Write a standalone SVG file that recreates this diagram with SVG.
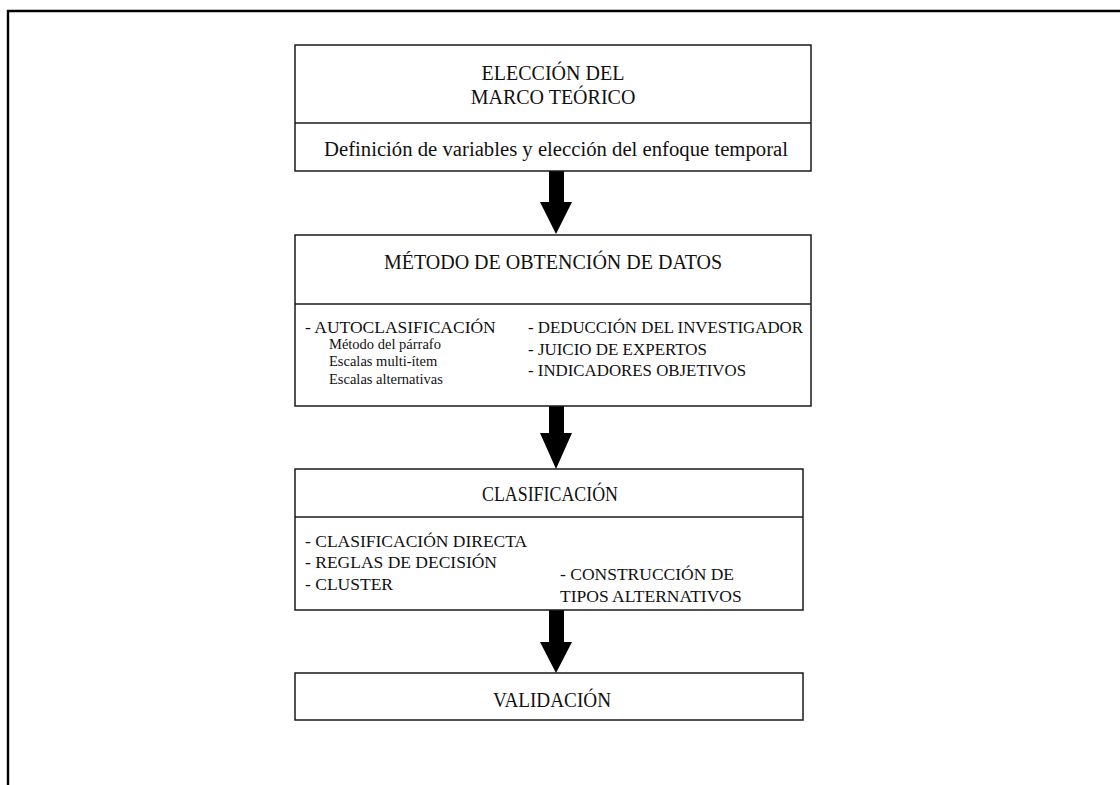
<svg xmlns="http://www.w3.org/2000/svg" width="1120" height="785" viewBox="0 0 1120 785">
  <style>
    .frame { fill: none; stroke: #000; stroke-width: 2.4; }
    .box { fill: #fff; stroke: #1a1a1a; stroke-width: 1.5; }
    .rule { stroke: #1a1a1a; stroke-width: 1.5; }
    .arrow { fill: #000; stroke: none; }
    text { font-family: "Liberation Serif", "Times New Roman", serif; fill: #111; }
    .head { font-size: 20px; }
    .body { font-size: 17.5px; }
    .small { font-size: 14.5px; }
    .mid { text-anchor: middle; }
  </style>

  <rect width="1120" height="785" fill="#fff"/>

  <!-- outer frame: top and left edges only -->
  <path class="frame" d="M8 785 V11 H1120"/>

  <!-- connectors: thick block arrows between stages -->
  <g id="connectors">
    <path class="arrow" d="M549 171 H564 V202 H572 L556 234 L540 202 H549 Z"/>
    <path class="arrow" d="M549 406 H564 V433 H572 L556 469 L540 433 H549 Z"/>
    <path class="arrow" d="M549 610 H564 V642 H572 L556 673 L540 642 H549 Z"/>
  </g>

  <!-- stage 1 -->
  <g id="marco-teorico">
    <rect class="box" x="295" y="45" width="516" height="126"/>
    <line class="rule" x1="295" y1="123" x2="811" y2="123"/>
    <text class="head mid" x="553" y="80">ELECCIÓN DEL</text>
    <text class="head mid" x="553" y="104">MARCO TEÓRICO</text>
    <text class="head mid" x="556" y="156" font-size="20.5" textLength="464" lengthAdjust="spacingAndGlyphs">Definición de variables y elección del enfoque temporal</text>
  </g>

  <!-- stage 2 -->
  <g id="obtencion-datos">
    <rect class="box" x="295" y="235" width="516" height="171"/>
    <line class="rule" x1="295" y1="304" x2="811" y2="304"/>
    <text class="head mid" x="553" y="269">MÉTODO DE OBTENCIÓN DE DATOS</text>
    <text class="body" x="305" y="333">- AUTOCLASIFICACIÓN</text>
    <text class="small" x="329" y="349">Método del párrafo</text>
    <text class="small" x="329" y="366">Escalas multi-ítem</text>
    <text class="small" x="329" y="384">Escalas alternativas</text>
    <text class="body" x="528" y="333" textLength="275" lengthAdjust="spacingAndGlyphs">- DEDUCCIÓN DEL INVESTIGADOR</text>
    <text class="body" x="528" y="355" textLength="179" lengthAdjust="spacingAndGlyphs">- JUICIO DE EXPERTOS</text>
    <text class="body" x="528" y="376" textLength="218" lengthAdjust="spacingAndGlyphs">- INDICADORES OBJETIVOS</text>
  </g>

  <!-- stage 3 -->
  <g id="clasificacion">
    <rect class="box" x="295" y="469" width="508" height="141"/>
    <line class="rule" x1="295" y1="517" x2="803" y2="517"/>
    <text class="head mid" x="550" y="501" textLength="136" lengthAdjust="spacingAndGlyphs">CLASIFICACIÓN</text>
    <text class="body" x="305" y="547">- CLASIFICACIÓN DIRECTA</text>
    <text class="body" x="305" y="568">- REGLAS DE DECISIÓN</text>
    <text class="body" x="305" y="590">- CLUSTER</text>
    <text class="body" x="560" y="580">- CONSTRUCCIÓN DE</text>
    <text class="body" x="560" y="602">TIPOS ALTERNATIVOS</text>
  </g>

  <!-- stage 4 -->
  <g id="validacion">
    <rect class="box" x="295" y="673" width="508" height="47"/>
    <text class="head mid" x="552" y="707" textLength="118" lengthAdjust="spacingAndGlyphs">VALIDACIÓN</text>
  </g>
</svg>
